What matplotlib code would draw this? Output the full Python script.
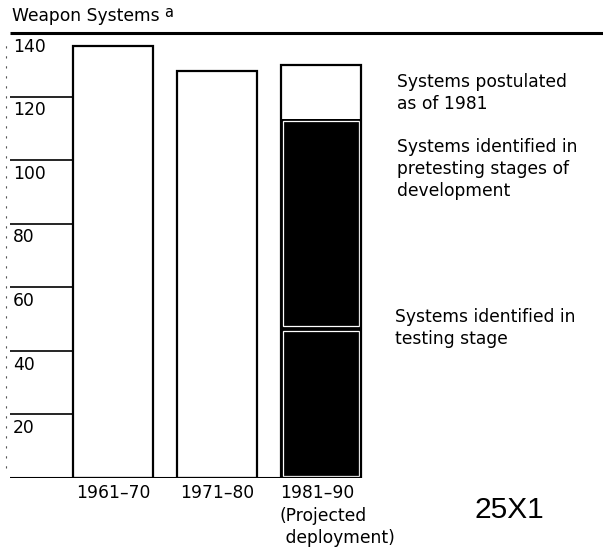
import matplotlib.pyplot as plt
import numpy as np

plt.rcParams['font.family'] = ['DejaVu Sans']

# data
periods = ["1961–70", "1971–80", "1981–90\n(Projected\n deployment)"]
totals = [136, 128]          # single bars, first two decades
testing = 47                 # 1981-90 stack, bottom
pretesting = 66              # middle
postulated = 17              # top
yticks = [20, 40, 60, 80, 100, 120]
stack_labels = ["Systems identified in\ntesting stage",
                "Systems identified in\npretesting stages of\ndevelopment",
                "Systems postulated\nas of 1981"]

W, H = 603, 548
fig = plt.figure(figsize=(W / 100, H / 100), dpi=100)

# axes in pixel terms: y=0 at 478px, y=140 at 33px
y0_px, y140_px = 478, 33
ax = fig.add_axes([0, (H - y0_px) / H, 1, (y0_px - y140_px) / H])
ax.set_xlim(-113 / 104, (W - 113) / 104)
ax.set_ylim(0, 140)
ax.axis("off")

x = np.arange(3)
bw = 0.77
lw = 1.6
fs = 12.3
ls = 1.3

# first two bars
ax.bar(x[:2], totals, width=bw, color="white", edgecolor="black", linewidth=lw, zorder=2)

# third bar, stacked
seg_vals = [testing, pretesting, postulated]
seg_bottoms = np.cumsum([0] + seg_vals[:-1])
seg_colors = ["black", "black", "white"]
ax.bar([x[2]] * 3, seg_vals, bottom=seg_bottoms, width=bw, color=seg_colors,
       edgecolor="none", zorder=2)
# thin white inner outline on the black blocks
ax.bar([x[2]] * 2, [v - 1.4 for v in seg_vals[:2]], bottom=seg_bottoms[:2] + 0.7,
       width=bw - 0.04, color="none", edgecolor="white", linewidth=0.9, zorder=3)
ax.bar(x[2], sum(seg_vals), width=bw, color="none", edgecolor="black", linewidth=lw, zorder=4)

# gridline stubs + tick labels
xl = -103 / 104
for t in yticks:
    ax.hlines(t, xl, x[0] - bw / 2, color="black", linewidth=1.2, zorder=1)
    ax.text(xl + 0.03, t - 1.5, str(t), ha="left", va="top", fontsize=fs)
ax.hlines(140, xl, ax.get_xlim()[1], color="black", linewidth=2.2, clip_on=False)
ax.text(xl + 0.03, 140 - 1.5, "140", ha="left", va="top", fontsize=fs)
ax.hlines(0, xl, x[2] + bw / 2, color="black", linewidth=1.5, zorder=5)

# scanning edge
ax.vlines(-1.03, 3, 138, color="#555555", linewidth=0.8, linestyles=(0, (2, 7)))

# category labels
ax.text(x[0], -2.0, periods[0], ha="center", va="top", fontsize=fs)
ax.text(x[1], -2.0, periods[1], ha="center", va="top", fontsize=fs)
ax.text(x[2] - bw / 2 - 0.01, -2.0, periods[2], ha="left", va="top",
        fontsize=fs, linespacing=ls)

# stack annotations
lx = 2.73
ax.text(lx, 127.5, stack_labels[2], ha="left", va="top", fontsize=fs, linespacing=ls)
ax.text(lx, 107, stack_labels[1], ha="left", va="top", fontsize=fs, linespacing=ls)
ax.text(lx - 0.02, 53.5, stack_labels[0], ha="left", va="top", fontsize=fs, linespacing=ls)

# title
fig.text(12 / W, 1 - 21 / H, "Weapon Systems", ha="left", va="baseline", fontsize=12.3)
fig.text(164 / W, 1 - 17 / H, "a", ha="left", va="baseline", fontsize=10.5)

fig.text(475 / W, 1 - 518 / H, "25X1", ha="left", va="baseline", fontsize=21.5,
         family="Liberation Sans")

fig.savefig("out.png", dpi=100)
